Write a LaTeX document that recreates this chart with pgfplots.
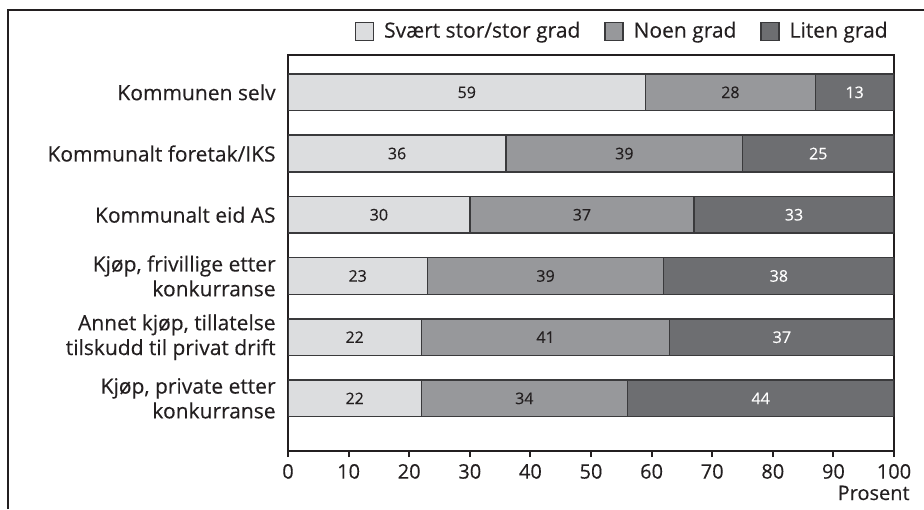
\documentclass[border=0pt]{standalone}
\usepackage{pgfplots}
\usepackage{pgfplotstable}
\pgfplotsset{compat=1.18}
\usepackage{fontspec}
\setmainfont{Open Sans}[FakeBold=0.25]
\definecolor{cLight}{HTML}{DCDDDF}
\definecolor{cMid}{HTML}{97989B}
\definecolor{cDark}{HTML}{6D6E71}
\definecolor{cEdge}{HTML}{3A3A3C}
\definecolor{cText}{HTML}{231F20}
\pgfplotstableread{
y a b c
0 59 28 13
1 36 39 25
2 30 37 33
3 23 39 38
4 22 41 37
5 22 34 44
}\data
\begin{document}
\begin{tikzpicture}
\useasboundingbox (0pt,0pt) rectangle (462pt,-254.5pt);
\draw[cText, line width=1.2pt] (4pt,-254.5pt) -- (4pt,-5pt) -- (462pt,-5pt);
\pgfplotsset{base/.style={
  at={(144pt,-225.5pt)}, anchor=south west, scale only axis,
  width=303pt, height=198pt,
  xmin=0, xmax=100, ymin=-0.61, ymax=5.86, y dir=reverse,
}}
\begin{axis}[base,
  xbar stacked, bar width=0.6,
  axis line style={cText, line width=1pt},
  tick align=outside, major tick length=3pt,
  xtick={0,10,...,100}, xtick pos=left,
  xtick style={cText, line width=1pt},
  ytick={0,1,2,3,4,5}, ytick style={draw=none},
  yticklabels={Kommunen selv, Kommunalt foretak/IKS, Kommunalt eid AS,
    {Kjøp, frivillige etter\\konkurranse},
    {Annet kjøp, tillatelse\\tilskudd til privat drift},
    {Kjøp, private etter\\konkurranse}},
  yticklabel style={align=right, inner sep=0pt, xshift=-3pt, text=cText,
    font=\fontsize{10.5}{12.4}\selectfont},
  xticklabel style={text=cText, font=\fontsize{10}{12}\selectfont},
  /pgf/number format/assume math mode=true,
  xlabel={Prosent},
  xlabel style={at={(rel axis cs:1,0)}, anchor=base east, xshift=8pt, yshift=-24.5pt,
    inner sep=0pt, text=cText, font=\fontsize{10}{12}\selectfont},
  legend columns=3,
  legend style={draw=none, fill=none, at={(1,1)}, anchor=south east, yshift=5pt, xshift=-1pt,
    inner sep=0pt, font=\fontsize{10.5}{12}\selectfont, text=cText,
    /tikz/every odd column/.append style={column sep=3pt},
    /tikz/every even column/.append style={column sep=10pt}},
  legend image code/.code={\draw[#1, draw=cEdge, line width=0.6pt] (0pt,-4.5pt) rectangle (9pt,4.5pt);},
]
\addplot[fill=cLight, draw=cEdge, line width=0.7pt] table[x=a, y=y] {\data};
\addplot[fill=cMid, draw=cEdge, line width=0.7pt] table[x=b, y=y] {\data};
\addplot[fill=cDark, draw=cEdge, line width=0.7pt] table[x=c, y=y] {\data};
\legend{Svært stor/stor grad, Noen grad, Liten grad}
\end{axis}
\begin{axis}[base, hide axis,
  nodes near coords, point meta=explicit,
  every node near coord/.style={anchor=center, font=\fontsize{8}{10}\selectfont},
  /pgf/number format/assume math mode=true,
]
\addplot[draw=none, mark=none, nodes near coords, every node near coord/.append style={text=cText}]
  table[x expr=\thisrow{a}/2, y=y, meta=a] {\data};
\addplot[draw=none, mark=none, nodes near coords, every node near coord/.append style={text=cText}]
  table[x expr=\thisrow{a}+\thisrow{b}/2, y=y, meta=b] {\data};
\addplot[draw=none, mark=none, nodes near coords, every node near coord/.append style={text=white}]
  table[x expr=\thisrow{a}+\thisrow{b}+\thisrow{c}/2, y=y, meta=c] {\data};
\end{axis}
\end{tikzpicture}
\end{document}
